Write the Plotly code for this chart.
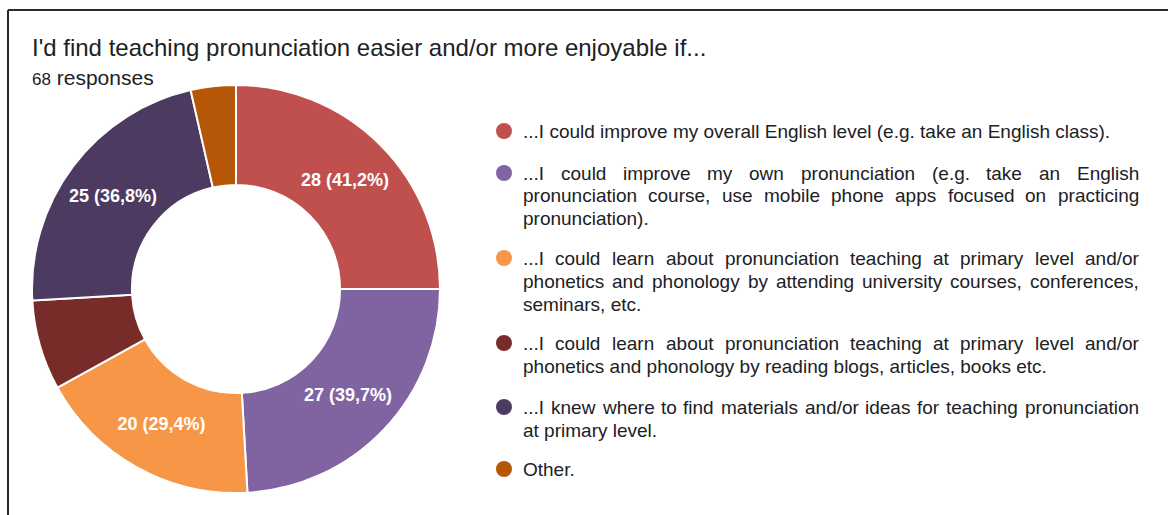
import plotly.graph_objects as go

# ---- data -------------------------------------------------------------
title_text = "I'd find teaching pronunciation easier and/or more enjoyable if..."
respondents = 68

# answer options, each stored as the wrapped lines shown in the legend
option_lines = [
    ["...I could improve my overall English level (e.g. take an English class)."],
    ["...I could improve my own pronunciation (e.g. take an English",
     "pronunciation course, use mobile phone apps focused on practicing",
     "pronunciation)."],
    ["...I could learn about pronunciation teaching at primary level and/or",
     "phonetics and phonology by attending university courses, conferences,",
     "seminars, etc."],
    ["...I could learn about pronunciation teaching at primary level and/or",
     "phonetics and phonology by reading blogs, articles, books etc."],
    ["...I knew where to find materials and/or ideas for teaching pronunciation",
     "at primary level."],
    ["Other."],
]
categories = [" ".join(lines) for lines in option_lines]
counts = [28, 27, 20, 8, 25, 4]
colors = ["#C0504D", "#8064A2", "#F79646", "#772C2A", "#4D3A61", "#B65708"]

# ---- styling -------------------------------------------------------------
W, H = 1168, 515
FONT = "Liberation Sans, Arial, Helvetica, sans-serif"
LEGEND_SIZE = 19
LINE_STEP = 23
TEXT_LEFT, TEXT_RIGHT = 522, 1138
MARKER_X, MARKER_R = 504, 8
ITEM_TOP = [131, 173, 258, 343, 407, 469]

# Arial / Liberation Sans advance widths (per 1000 em)
ARIAL = {" ": 278, "!": 278, "%": 889, "'": 191, "(": 333, ")": 333, ",": 278,
         "-": 333, ".": 278, "/": 278, ":": 278, ";": 278, "?": 556}
ARIAL.update({c: 556 for c in "0123456789"})
ARIAL.update(dict(zip("ABCDEFGHIJKLMNOPQRSTUVWXYZ",
                      [667, 667, 722, 722, 667, 611, 778, 722, 278, 500, 667, 556, 833,
                       722, 778, 667, 778, 722, 667, 611, 722, 667, 944, 667, 667, 611])))
ARIAL.update(dict(zip("abcdefghijklmnopqrstuvwxyz",
                      [556, 556, 500, 556, 556, 278, 556, 556, 222, 222, 500, 222, 833,
                       556, 556, 556, 556, 333, 500, 278, 556, 500, 722, 500, 500, 500])))


def text_width(s, size):
    return sum(ARIAL.get(c, 556) for c in s) * size / 1000.0


def px(x):
    return x / W


def py(y):
    return 1 - y / H


def fmt_label(v):
    if v / sum(counts) < 0.1:
        return ""
    return f"{v} ({v / respondents * 100:.1f}%)".replace(".", ",")


slice_text = [fmt_label(v) for v in counts]

fig = go.Figure()
fig.add_trace(go.Pie(
    values=counts,
    labels=categories,
    text=slice_text,
    textinfo="text",
    textposition="inside",
    insidetextorientation="horizontal",
    textfont=dict(family=FONT, size=18, color="white", weight="bold"),
    marker=dict(colors=colors, line=dict(color="white", width=2)),
    hole=0.51,
    sort=False,
    direction="clockwise",
    rotation=0,
    showlegend=False,
    domain=dict(x=[px(32), px(440)], y=[py(493), py(85)]),
))

annotations = [
    dict(text=title_text, x=px(30), y=py(47), xanchor="left", yanchor="middle",
         font=dict(family=FONT, size=24, color="#202124"), showarrow=False),
    dict(text="<span style='font-size:17px'>68</span> responses", x=px(30), y=py(78),
         xanchor="left", yanchor="middle",
         font=dict(family=FONT, size=21, color="#202124"), showarrow=False),
]
shapes = []

for i, lines in enumerate(option_lines):
    y0 = ITEM_TOP[i]
    shapes.append(dict(type="circle", xref="paper", yref="paper",
                       x0=px(MARKER_X - MARKER_R), x1=px(MARKER_X + MARKER_R),
                       y0=py(y0 + MARKER_R), y1=py(y0 - MARKER_R),
                       fillcolor=colors[i], line=dict(width=0)))
    for j, line in enumerate(lines):
        y = y0 + j * LINE_STEP
        last = j == len(lines) - 1
        words = line.split(" ")
        if last or len(words) < 2:
            annotations.append(dict(text=line, x=px(TEXT_LEFT), y=py(y), xanchor="left",
                                    yanchor="middle", showarrow=False, borderpad=0,
                                    font=dict(family=FONT, size=LEGEND_SIZE, color="#202124")))
            continue
        # justified line: spread the words across the full text column
        widths = [text_width(w, LEGEND_SIZE) for w in words]
        gap = (TEXT_RIGHT - TEXT_LEFT - sum(widths)) / (len(words) - 1)
        x = TEXT_LEFT
        for w, wd in zip(words, widths):
            annotations.append(dict(text=w, x=px(x), y=py(y), xanchor="left",
                                    yanchor="middle", showarrow=False, borderpad=0,
                                    font=dict(family=FONT, size=LEGEND_SIZE, color="#202124")))
            x += wd + gap

# outer frame (top and left edges)
shapes.append(dict(type="line", xref="paper", yref="paper", x0=px(8), x1=1.0,
                   y0=py(10), y1=py(10), line=dict(color="#2b2b2b", width=2)))
shapes.append(dict(type="line", xref="paper", yref="paper", x0=px(8), x1=px(8),
                   y0=py(10), y1=0.0, line=dict(color="#2b2b2b", width=2)))

fig.update_layout(
    width=W, height=H,
    margin=dict(l=0, r=0, t=0, b=0),
    paper_bgcolor="white",
    plot_bgcolor="white",
    showlegend=False,
    annotations=annotations,
    shapes=shapes,
)

fig.write_html("out.html")
